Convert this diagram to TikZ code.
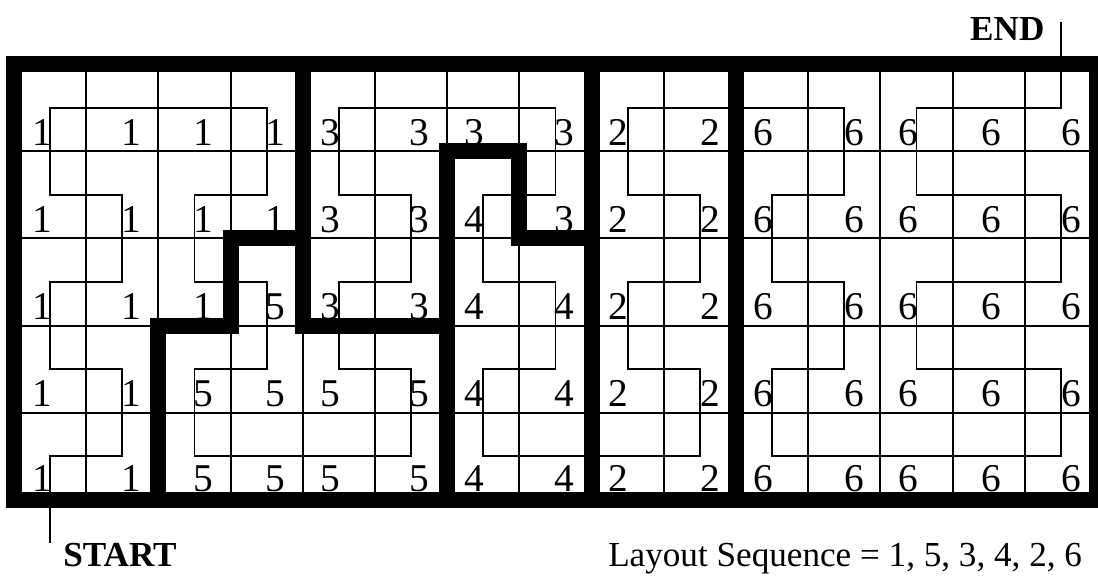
\documentclass[tikz,border=0pt]{standalone}
\usepackage{fontspec}
\setmainfont{Liberation Serif}

\begin{document}
\begin{tikzpicture}[x=1.805cm, y=-2.18cm,
  gridline/.style={line width=1.4pt},
  wall/.style={line width=0.4cm, line join=miter},
  route/.style={line width=1.3pt, line join=miter},
  cellnum/.style={anchor=base, inner sep=0pt, font=\fontsize{28}{30}\selectfont},
  tag/.style={anchor=base west, inner sep=0pt, font=\fontsize{25}{28}\selectfont\bfseries},
  caption/.style={anchor=base west, inner sep=0pt, font=\fontsize{25}{28}\selectfont},
]
\useasboundingbox (-0.194,-0.734) rectangle (15.014,5.883);
\foreach \i in {1,...,14} \draw[gridline] (\i,0) -- (\i,5);
\foreach \j in {1,...,4} \draw[gridline] (0,\j) -- (15,\j);
\foreach \i in {0,...,14} {
  \foreach \j in {0,...,4} {
    \coordinate (c\i-\j) at (\i+0.5,\j+0.5);
  }
}
\coordinate (start) at (0.5,5.49);
\coordinate (end) at (14.5,-0.48);
\draw[route] (start) -- (c0-4) -- (c1-4) -- (c1-3) -- (c0-3) -- (c0-2) -- (c1-2) -- (c1-1) -- (c0-1) -- (c0-0)
  -- (c3-0) -- (c3-1) -- (c2-1) -- (c2-2) -- (c3-2) -- (c3-3) -- (c2-3) -- (c2-4)
  -- (c5-4) -- (c5-3) -- (c4-3) -- (c4-2) -- (c5-2) -- (c5-1) -- (c4-1) -- (c4-0)
  -- (c7-0) -- (c7-1) -- (c6-1) -- (c6-2) -- (c7-2) -- (c7-3) -- (c6-3) -- (c6-4)
  -- (c9-4) -- (c9-3) -- (c8-3) -- (c8-2) -- (c9-2) -- (c9-1) -- (c8-1) -- (c8-0)
  -- (c11-0) -- (c11-1) -- (c10-1) -- (c10-2) -- (c11-2) -- (c11-3) -- (c10-3) -- (c10-4)
  -- (c14-4) -- (c14-3) -- (c12-3) -- (c12-2) -- (c14-2) -- (c14-1) -- (c12-1) -- (c12-0)
  -- (c14-0) -- (end);
\foreach \row [count=\j from 0] in {
  {1,1,1,1,3,3,3,3,2,2,6,6,6,6,6},
  {1,1,1,1,3,3,4,3,2,2,6,6,6,6,6},
  {1,1,1,5,3,3,4,4,2,2,6,6,6,6,6},
  {1,1,5,5,5,5,4,4,2,2,6,6,6,6,6},
  {1,1,5,5,5,5,4,4,2,2,6,6,6,6,6}} {
  \foreach \v [count=\i from 0] in \row {
    \pgfmathsetmacro\dx{{-0.11,0.125,0.125,0.125,-0.125,0.12,-0.125,0.12,-0.125,0.14,-0.125,0.14,-0.11,0.03,0.14}[\i]}
    \pgfmathsetmacro\by{\j+1-(\j==4 ? 0.1 : 0.07)}
    \node[cellnum] (n\i-\j) at (\i+0.5+\dx,\by) {\v};
  }
}
\draw[wall] (0,0) rectangle (15,5);
\draw[wall] (2,5) -- (2,3) -- (3,3) -- (3,2) -- (4,2);
\draw[wall] (4,0) -- (4,3) -- (6,3);
\draw[wall] (6,5) -- (6,1) -- (7,1) -- (7,2) -- (8,2);
\draw[wall] (8,0) -- (8,5);
\draw[wall] (10,0) -- (10,5);
\node[tag] (startlbl) at (0.679,5.76) {START};
\node[tag] (endlbl) at (13.24,-0.275) {END};
\node[caption] (seq) at (8.227,5.76) {Layout Sequence = 1, 5, 3, 4, 2, 6};
\end{tikzpicture}
\end{document}
